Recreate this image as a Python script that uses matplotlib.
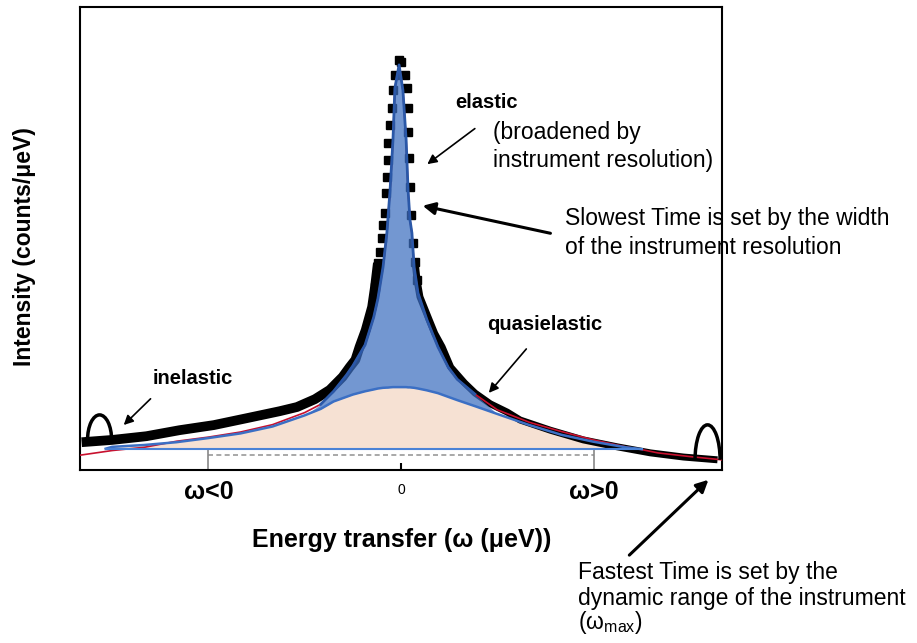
import numpy as np
import matplotlib
matplotlib.use('Agg')
import matplotlib.pyplot as plt
from matplotlib.patches import Arc

plt.rcParams['font.family'] = ['Liberation Sans', 'DejaVu Sans']
plt.rcParams['mathtext.fontset'] = 'custom'
plt.rcParams['mathtext.rm'] = 'Liberation Sans'

# measured spectrum, energy transfer (ueV) vs intensity (counts/ueV)
data_x = [-99.5, -89.9, -79.3, -69.0, -58.3, -48.0, -37.8, -32.4, -26.8, -22.2,
          -18.2, -16.0, -14.2, -12.9, -11.0, -9.0, -8.1, -7.2, -6.6, -5.9,
          -5.6, -5.0, -4.7, -4.4, -4.2, -4.1, -3.4, -2.8, -2.5, -1.9, -0.6,
          0.0, 1.2, 1.9, 2.2, 2.3, 2.5, 2.8, 3.1, 3.7, 4.4, 5.0, 5.9, 8.8,
          10.5, 12.8, 15.5, 19.8, 23.1, 27.8, 33.1, 37.1, 46.5, 56.8, 67.4,
          77.7, 88.0, 98.6]
data_y = [6.0, 6.5, 7.3, 8.6, 9.7, 11.2, 12.7, 13.6, 15.3, 17.3,
          20.1, 22.2, 23.8, 26.6, 30.2, 35.2, 39.5, 44.7, 47.1, 50.1,
          52.9, 55.5, 59.8, 63.3, 67.0, 70.6, 74.5, 78.2, 82.1, 85.3, 88.6,
          88.1, 85.3, 82.5, 78.2, 73.0, 67.4, 61.1, 55.1, 49.0, 44.9, 41.0, 37.4, 32.4,
          29.5, 26.6, 22.2, 18.8, 16.6, 14.3, 12.5, 10.8, 8.6, 6.5, 5.0,
          3.7, 2.8, 2.2]

# fitted model: total fit and broad quasielastic component
fit_x = [-100, -92, -90, -80, -70, -60, -50, -40, -30, -25,
         -21, -17, -15, -11.2, -8.5, -7.2, -5.6, -4.4, -4.1, -3.4,
         -2.5, -1.9, -0.6, 0.6, 1.6, 2.2, 2.8, 3.4, 4.1, 5.3,
         8.1, 11.5, 14.7, 17.5, 23, 30, 40, 50, 60, 70,
         75, 80, 90, 100]
total_fit = [3.2, 4.0, 4.2, 4.9, 6.2, 7.1, 8.2, 9.8, 12.4, 14.2,
             17.0, 20.5, 22.5, 27.0, 33.0, 37.0, 43.8, 51.2, 54.0, 60.5,
             71.3, 82.5, 87.5, 82.0, 71.3, 60.5, 54.0, 51.2, 43.8, 38.2,
             32.4, 26.6, 22.2, 19.6, 16.4, 13.0, 10.3, 8.3, 6.5, 5.0,
             4.4, 3.7, 2.9, 2.2]
quasi_fit = [np.nan, 4.6, 5.0, 5.4, 6.0, 6.9, 7.9, 9.4, 11.8, 13.2,
             14.8, 15.8, 16.3, 17.0, 17.4, 17.6, 17.75, 17.8, 17.8, 17.85,
             17.9, 17.9, 17.9, 17.9, 17.9, 17.85, 17.85, 17.8, 17.75, 17.6,
             17.2, 16.6, 15.8, 15.1, 13.8, 12.1, 9.7, 7.6, 6.1, 4.9,
             4.5, np.nan, np.nan, np.nan]
baseline = 4.5
baseline_x = [-92, 75]
window_x = [-60, 60]
window_y = 3.2

dx = np.array(data_x)
dy = np.array(data_y)
fx = np.array(fit_x)
tot = np.array(total_fit)
qe = np.array(quasi_fit)


def fig_xy(px, py):
    # reference pixel position -> figure fraction
    return px / 917, 1 - py / 643


fig = plt.figure(figsize=(9.17, 6.43), dpi=100)
ax = fig.add_axes([80 / 917, 1 - 470 / 643, 642 / 917, 463 / 643])
ax.set_xlim(-100, 100)
ax.set_ylim(0, 100)

# quasielastic component (peach)
ax.fill_between(fx, baseline, qe, where=~np.isnan(qe), color='#f6e1d3', lw=0, zorder=1)

# measured points: thick band in the wings, separate squares on the peak
wing = np.where(dy < 46, dy, np.nan)
left = dx < 0
ax.plot(dx[left], wing[left], color='black', lw=7, solid_capstyle='butt', zorder=2)
ax.plot(dx[~left], wing[~left], color='black', lw=5, solid_capstyle='butt', zorder=2)
core = dy > 38
ax.plot(dx[core], dy[core], 's', color='black', ms=6, zorder=2)

# elastic component (blue, over the data)
near = np.abs(fx) <= 25
ax.fill_between(fx, qe, tot, where=near & (tot > qe), interpolate=True,
                color='#3d6fc0', alpha=0.72, lw=0, zorder=3)

ax.plot(fx, tot, color='#c8102e', lw=1.2, zorder=4)
ax.plot(fx[near], tot[near], color='#2a58a8', lw=2, zorder=5)
ax.plot(fx, qe, color='#3b6fc4', lw=1.8, zorder=5)
ax.plot(baseline_x, [baseline, baseline], color='#4a82d6', lw=1.5, zorder=5)

# instrument window
ax.plot(window_x, [window_y, window_y], color='#999999', lw=1.2, ls=(0, (3, 2)), zorder=1)
ax.vlines(window_x, 0, 4.3, color='#888888', lw=1.2, zorder=1)

# window-edge arcs
ax.add_patch(Arc((-93.9, 6.5), 7.5, 10.8, theta1=0, theta2=180, lw=2.5, color='black', zorder=6))
ax.add_patch(Arc((95.5, 2.2), 7.8, 15.1, theta1=0, theta2=180, lw=2.5, color='black', zorder=6))

for s in ax.spines.values():
    s.set_linewidth(1.5)
ax.set_yticks([])
ax.set_xticks([0])
ax.set_xticklabels(['0'])
ax.tick_params(axis='x', direction='in', length=5, width=1.5, labelsize=10, pad=9)

# arrows
thin = dict(arrowstyle='-|>', color='black', lw=1.2, mutation_scale=14)
thick = dict(arrowstyle='-|>', color='black', lw=2.2, mutation_scale=18)
ax.annotate('', xy=(7.5, 65.7), xytext=(23.7, 74.1), arrowprops=thin, annotation_clip=False)
ax.annotate('', xy=(5.9, 57.2), xytext=(47.4, 51.0), arrowprops=thick, annotation_clip=False)
ax.annotate('', xy=(26.8, 16.2), xytext=(39.6, 26.6), arrowprops=thin, annotation_clip=False)
ax.annotate('', xy=(-87.0, 9.3), xytext=(-77.4, 15.8), arrowprops=thin, annotation_clip=False)
ax.annotate('', xy=(96.4, -1.7), xytext=(70.5, -18.8), arrowprops=thick, annotation_clip=False)

# labels
bold = dict(fontsize=14.5, fontweight='bold', va='center')
fig.text(*fig_xy(455, 103), 'elastic', **bold)
fig.text(*fig_xy(487, 325), 'quasielastic', **bold)
fig.text(*fig_xy(153, 378), 'inelastic', **bold)

reg = dict(fontsize=16.5, va='center')
fig.text(*fig_xy(493, 133), '(broadened by', **reg)
fig.text(*fig_xy(493, 160), 'instrument resolution)', **reg)
fig.text(*fig_xy(565, 218), 'Slowest Time is set by the width', **reg)
fig.text(*fig_xy(565, 248), 'of the instrument resolution', **reg)
fig.text(*fig_xy(578, 572), 'Fastest Time is set by the', **reg)
fig.text(*fig_xy(578, 598), 'dynamic range of the instrument', **reg)
fig.text(*fig_xy(578, 623), '(ω$_{\\rm max}$)', **reg)

fig.text(*fig_xy(209, 492), 'ω<0', fontsize=18, fontweight='bold', ha='center', va='center')
fig.text(*fig_xy(594, 492), 'ω>0', fontsize=18, fontweight='bold', ha='center', va='center')

fig.text(*fig_xy(402, 540), 'Energy transfer (ω (μeV))', fontsize=18, fontweight='bold',
         ha='center', va='center')
fig.text(*fig_xy(25, 247), 'Intensity (counts/μeV)', fontsize=16.5, fontweight='bold',
         ha='center', va='center', rotation=90)

fig.savefig('out.png', dpi=100)
